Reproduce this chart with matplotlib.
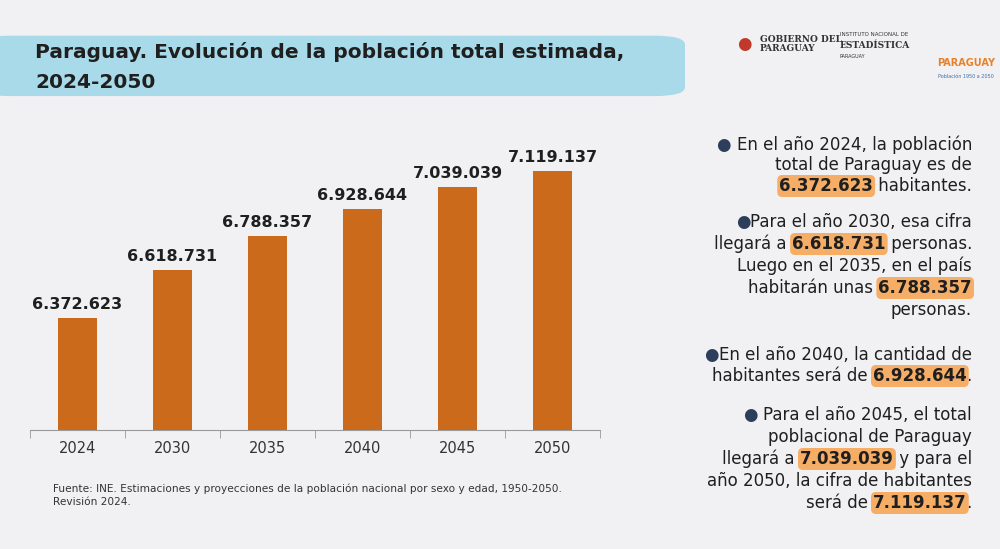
import matplotlib
matplotlib.use("Agg")
from matplotlib import pyplot as plt
from matplotlib.patches import FancyBboxPatch

plt.rcParams['font.family'] = ['DejaVu Sans']

years = ["2024", "2030", "2035", "2040", "2045", "2050"]
poblacion = [6372623, 6618731, 6788357, 6928644, 7039039, 7119137]

BAR = "#cc6a1c"
HL = "#f6ad66"
TXT = "#1f1f1f"
NAVY = "#2c3e5c"


def fmt(v):
    return f"{v:,}".replace(",", ".")


fig = plt.figure(figsize=(10, 5.49), dpi=100)
fig.patch.set_facecolor("#f1f1f3")

# banner del titulo
banner = FancyBboxPatch((-0.02, 0.825), 0.705, 0.11, boxstyle="round,pad=0,rounding_size=0.03",
                        transform=fig.transFigure, facecolor="#a9dae9", edgecolor="none",
                        mutation_aspect=0.549)
fig.patches.append(banner)
fig.text(0.035, 0.905, "Paraguay. Evolución de la población total estimada,", fontsize=14.5,
         fontweight="bold", color=TXT, va="center")
fig.text(0.035, 0.85, "2024-2050", fontsize=14.5, fontweight="bold", color=TXT, va="center")

# logos (aproximados con texto)
fig.text(0.737, 0.92, "●", fontsize=12, color="#c0392b", va="center")
fig.text(0.76, 0.92, "GOBIERNO DEL\nPARAGUAY", fontsize=6.5, family="DejaVu Serif",
         fontweight="bold", color="#333", va="center", linespacing=0.9)
fig.plot = None
fig.text(0.84, 0.937, "INSTITUTO NACIONAL DE", fontsize=4, color="#333", va="center")
fig.text(0.84, 0.917, "ESTADÍSTICA", fontsize=6.5, family="DejaVu Serif", fontweight="bold",
         color="#333", va="center")
fig.text(0.84, 0.897, "PARAGUAY", fontsize=3.5, color="#333", va="center")
fig.text(0.966, 0.885, "PARAGUAY", fontsize=7, fontweight="bold", color="#e8822a",
         ha="center", va="center")
fig.text(0.966, 0.86, "Población 1950 a 2050", fontsize=3.5, color="#3a6ea5",
         ha="center", va="center")

# grafico
ax = fig.add_axes([0.03, 0.217, 0.57, 0.546])
ax.set_facecolor("none")
x = range(len(years))
bars = ax.bar(x, poblacion, width=0.41, color=BAR)
ax.set_ylim(5803887, 7327000)
ax.set_xlim(-0.5, len(years) - 0.5)
for xi, v in zip(x, poblacion):
    ax.text(xi, v + 30000, fmt(v), ha="center", va="bottom", fontsize=11.5,
            fontweight="bold", color=TXT)
ax.set_xticks(list(x))
ax.set_xticklabels(years, fontsize=10.5, color="#333")
ax.set_xticks([i - 0.5 for i in range(len(years) + 1)], minor=True)
ax.tick_params(axis="x", which="major", length=0, pad=8)
ax.tick_params(axis="x", which="minor", length=6, color="#999")
ax.set_yticks([])
for s in ["top", "left", "right"]:
    ax.spines[s].set_visible(False)
ax.spines["bottom"].set_color("#999")

fig.text(0.053, 0.12, "Fuente: INE. Estimaciones y proyecciones de la población nacional por sexo y edad, 1950-2050.\nRevisión 2024.",
         fontsize=7.6, color="#333", va="top", linespacing=1.4)

# texto lateral
lines = [
    (145, [("● ", "b"), ("En el año 2024, la población", "")]),
    (165, [("total de Paraguay es de", "")]),
    (186, [(fmt(poblacion[0]), "h"), (" habitantes.", "")]),
    (222, [("●", "b"), ("Para el año 2030, esa cifra", "")]),
    (244, [("llegará a ", ""), (fmt(poblacion[1]), "h"), (" personas.", "")]),
    (266, [("Luego en el 2035, en el país", "")]),
    (288, [("habitarán unas ", ""), (fmt(poblacion[2]), "h")]),
    (310, [("personas.", "")]),
    (355, [("●", "b"), ("En el año 2040, la cantidad de", "")]),
    (376, [("habitantes será de ", ""), (fmt(poblacion[3]), "h"), (".", "")]),
    (415, [("● ", "b"), ("Para el año 2045, el total", "")]),
    (437, [("poblacional de Paraguay", "")]),
    (459, [("llegará a ", ""), (fmt(poblacion[4]), "h"), (" y para el", "")]),
    (481, [("año 2050, la cifra de habitantes", "")]),
    (503, [("será de ", ""), (fmt(poblacion[5]), "h"), (".", "")]),
]

fig.canvas.draw()
renderer = fig.canvas.get_renderer()
right = 972
for ypx, segs in lines:
    xr = right
    yf = 1 - ypx / 549
    for txt, kind in reversed(segs):
        kw = dict(fontsize=12, color=TXT, ha="right", va="center")
        if kind == "h":
            kw.update(fontweight="bold", bbox=dict(boxstyle="round,pad=0.12,rounding_size=0.3",
                                                   facecolor=HL, edgecolor="none"))
        if kind == "b":
            kw.update(color=NAVY)
        t = fig.text(xr / 1000, yf, txt, **kw)
        w = t.get_window_extent(renderer).width
        xr -= w

fig.savefig("out.png", dpi=100, facecolor=fig.get_facecolor())
